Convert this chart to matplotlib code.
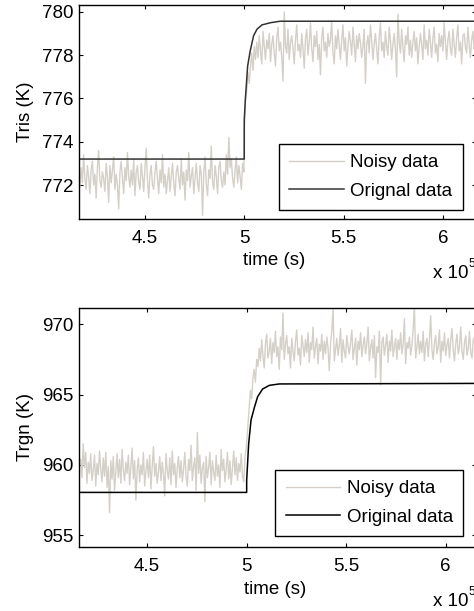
import matplotlib
matplotlib.use('agg')
from matplotlib import pyplot as plt
import numpy as np

plt.rcParams['font.family'] = ['Liberation Sans', 'DejaVu Sans']

noisy_color = '#d4d0c8'
fs = 13.5

# sampling window of the noisy records (s)
t_first = 4.166e5
t_step = 5.0e5
t_last = 6.17e5

xticks = [4.5e5, 5.0e5, 5.5e5, 6.0e5]
xtick_labels = ['4.5', '5', '5.5', '6']

# ---- top panel: Tris ----
tris_orig_t = [4.10e5, 5.0e5, 5.0e5, 5.005e5, 5.017e5, 5.03e5, 5.047e5, 5.064e5,
               5.089e5, 5.131e5, 5.18e5, 6.20e5]
tris_orig = [773.2, 773.2, 775.0, 775.9, 777.5, 778.2, 778.9, 779.2,
             779.4, 779.5, 779.57, 779.57]

tris_noisy_pre = [
    772.6, 771.9, 772.8, 772.1, 773.4, 772.3, 771.8, 772.9, 772.4, 771.6,
    772.7, 773.1, 772.0, 772.5, 771.4, 772.8, 773.6, 772.2, 771.9, 772.6,
    772.3, 771.7, 773.0, 772.4, 771.2, 772.9, 772.1, 772.7, 773.3, 771.8,
    772.5, 772.0, 770.9, 772.6, 773.1, 772.3, 771.6, 772.8, 772.2, 773.5,
    772.4, 771.9, 772.7, 772.0, 773.2, 771.5, 772.6, 772.9, 772.1, 771.8,
    773.0, 772.4, 771.7, 772.8, 773.7, 772.2, 771.4, 772.5, 772.9, 772.0,
    771.8, 772.6, 773.1, 772.3, 771.6, 772.7, 772.1, 773.4, 771.9, 772.5,
    771.6, 772.2, 772.8, 771.7, 772.4, 773.0, 772.1, 771.5, 772.6, 772.9,
    772.3, 771.8, 773.2, 772.0, 772.6, 771.3, 772.7, 772.2, 773.5, 771.9,
    772.4, 772.8, 771.6, 772.3, 773.0, 772.1, 771.7, 772.9, 772.5, 770.6,
    772.6, 773.3, 772.0, 771.5, 772.7, 772.3, 773.8, 772.1, 771.8, 772.9,
    772.4, 771.6, 772.8, 773.1, 772.2, 771.9, 772.6, 772.0, 773.4, 772.5,
    774.2, 772.8, 773.2, 772.3, 771.9, 772.7, 773.3, 772.1, 772.9, 772.4,
    771.8, 773.0, 772.6]

tris_noisy_post = [
    774.6, 775.9, 776.4, 777.2, 776.7, 777.5, 778.1, 777.3, 778.4, 777.8,
    778.6, 777.9, 778.9, 778.2, 777.6, 779.1, 778.4, 777.8, 778.7, 778.3,
    779.0, 777.7, 778.5, 778.9, 778.1, 777.5, 778.8, 779.3, 778.2, 778.6,
    777.9, 776.8, 780.0, 778.4, 778.1, 779.2, 777.8, 778.6, 778.9, 778.3,
    777.6, 778.7, 779.4, 778.2, 778.5, 777.9, 779.0, 778.3, 777.4, 778.8,
    779.2, 778.0, 778.6, 779.5, 778.3, 777.7, 778.9, 778.4, 779.1, 777.8,
    778.5, 777.1, 778.8, 779.3, 778.2, 778.6, 777.9, 779.0, 778.4, 778.7,
    779.6, 778.1, 777.6, 778.9, 778.3, 779.2, 778.5, 777.8, 778.7, 779.4,
    778.2, 778.8, 777.5, 778.4, 779.1, 778.6, 778.0, 779.3, 778.5, 777.7,
    778.9, 778.3, 779.0, 778.6, 777.9, 778.4, 779.2, 776.7, 778.5, 778.9,
    778.1, 779.4, 778.7, 777.8, 778.5, 779.0, 778.3, 777.6, 778.8, 779.5,
    778.2, 778.6, 777.9, 779.1, 778.4, 778.0, 779.3, 778.7, 777.8, 778.5,
    779.0, 778.3, 777.0, 779.9, 778.6, 778.1, 779.2, 778.4, 777.7, 778.9,
    778.5, 779.3, 778.0, 778.7, 777.9, 778.6, 779.1, 778.2, 778.8, 777.6,
    778.4, 779.0, 778.5, 777.8, 779.4, 778.3, 778.7, 778.0, 779.2, 778.6,
    777.9, 778.8, 779.3, 778.1, 778.5, 777.7, 779.0, 778.4, 778.9, 778.2,
    779.5, 778.6, 777.8, 778.7, 779.1, 778.3, 778.0, 779.2, 778.5, 777.9,
    778.8, 779.4, 778.2, 778.6, 777.6, 778.9, 779.0, 778.4, 778.1, 779.3,
    778.5, 777.9, 778.7, 779.1, 778.3, 778.6, 778.0]

tris_yticks = [772, 774, 776, 778, 780]

# ---- bottom panel: Trgn ----
trgn_orig_t = [4.10e5, 5.0e5, 5.0e5, 5.010e5, 5.022e5, 5.039e5, 5.055e5, 5.080e5,
               5.114e5, 5.164e5, 6.20e5]
trgn_orig = [958.05, 958.05, 958.9, 961.5, 963.2, 964.1, 964.85, 965.4,
             965.66, 965.76, 965.8]

trgn_noisy_pre = [
    960.4, 959.1, 961.5, 959.8, 960.9, 958.7, 960.2, 959.4, 960.8, 958.9,
    959.6, 960.7, 958.5, 960.1, 959.3, 961.0, 959.7, 958.8, 960.5, 959.2,
    960.9, 958.4, 959.9, 956.6, 960.3, 959.0, 960.6, 958.2, 959.5, 960.8,
    959.1, 960.4, 958.7, 961.1, 959.6, 958.9, 960.2, 959.4, 960.7, 958.6,
    959.8, 961.2, 959.0, 960.3, 957.5, 959.7, 960.5, 958.8, 960.0, 959.3,
    960.9, 958.5, 959.6, 960.4, 959.1, 960.7, 958.3, 959.9, 961.3, 959.2,
    960.1, 958.7, 959.5, 960.6, 958.9, 960.2, 959.4, 957.8, 960.8, 959.6,
    959.0, 960.5, 958.6, 961.0, 959.3, 960.1, 958.4, 959.8, 960.6, 959.1,
    960.3, 958.8, 959.7, 960.9, 959.2, 958.5, 960.4, 959.6, 961.4, 958.9,
    959.9, 960.5, 958.2, 962.3, 959.4, 960.7, 958.7, 959.8, 960.2, 957.4,
    960.6, 959.1, 959.8, 960.9, 958.6, 960.3, 959.5, 958.9, 960.7, 959.2,
    960.0, 958.4, 961.1, 959.6, 960.4, 958.8, 959.7, 960.9, 959.0, 960.3,
    958.6, 959.8, 961.0, 959.3, 960.5, 958.9, 960.1, 959.5, 960.8, 959.2,
    958.8, 960.6, 961.2]

trgn_noisy_post = [
    961.6, 962.9, 964.1, 965.3, 964.7, 966.2, 966.8, 965.9, 967.5, 967.0,
    968.3, 967.4, 968.9, 967.8, 966.9, 968.6, 969.3, 967.6, 968.1, 969.0,
    967.2, 968.7, 968.0, 969.5, 967.7, 968.4, 966.8, 969.1, 968.2, 970.8,
    967.5, 968.6, 969.2, 967.9, 968.4, 966.9, 969.0, 968.1, 967.4, 968.8,
    969.6, 967.8, 968.3, 967.1, 969.2, 968.5, 967.7, 968.9, 968.0, 969.4,
    967.3, 968.7, 968.2, 969.8, 967.6, 968.4, 969.0, 967.2, 968.6, 968.1,
    969.3, 967.5, 968.8, 967.9, 969.1, 968.3, 966.7, 968.6, 969.5, 971.1,
    967.4, 968.2, 969.0, 967.8, 968.5, 969.7, 967.3, 968.9, 968.1, 967.6,
    969.2, 968.4, 967.9, 968.7, 969.6, 967.5, 968.3, 969.0, 967.1, 968.8,
    968.2, 969.4, 967.7, 968.5, 969.1, 967.9, 968.6, 969.8, 967.4, 968.3,
    968.9, 967.6, 969.2, 966.2, 968.4, 968.0, 969.5, 965.7, 968.7, 969.1,
    967.8, 968.5, 969.3, 967.3, 968.8, 968.1, 969.6, 967.7, 968.4, 969.0,
    967.5, 968.9, 968.2, 969.4, 967.9, 968.6, 970.4, 967.2, 968.7, 968.3,
    969.1, 967.8, 968.5, 969.7, 971.2, 967.6, 968.4, 969.3, 967.9, 968.8,
    968.0, 969.5, 967.4, 968.6, 969.0, 967.7, 968.9, 970.6, 968.2, 967.5,
    968.7, 969.2, 967.9, 968.4, 969.6, 967.3, 968.8, 968.1, 969.4, 967.8,
    968.5, 969.0, 967.6, 968.9, 969.7, 968.2, 967.4, 968.6, 969.3, 967.9,
    968.4, 969.8, 968.1, 967.5, 968.7, 969.2, 967.8, 968.3, 969.5, 968.0,
    967.6, 968.9, 969.1, 968.2, 967.7, 968.6, 969.4]

trgn_yticks = [955, 960, 965, 970]


def noisy_series(pre, post):
    t = np.concatenate([np.linspace(t_first, t_step - 200, len(pre)),
                        np.linspace(t_step, t_last, len(post))])
    return t, np.concatenate([pre, post])


def draw_panel(ax, t_noisy, y_noisy, t_orig, y_orig, orig_label, orig_color,
               xlim, ylim, yticks, ylabel, legend_anchor, xlabel_xy):
    ax.plot(t_noisy, y_noisy, color=noisy_color, lw=1.0, label='Noisy data')
    ax.plot(t_orig, y_orig, color=orig_color, lw=1.1, label=orig_label)
    ax.set_xlim(*xlim)
    ax.set_ylim(*ylim)
    ax.set_xticks(xticks)
    ax.set_xticklabels(xtick_labels)
    ax.set_yticks(yticks)
    ax.tick_params(direction='in', top=True, right=True, length=3, width=0.8,
                   labelsize=fs, colors='black')
    ax.tick_params(axis='x', pad=8)
    ax.tick_params(axis='y', pad=4)
    for s in ax.spines.values():
        s.set_linewidth(1.0)
        s.set_color('black')
    ax.set_xlabel('time (s)', fontsize=fs)
    ax.xaxis.set_label_coords(*xlabel_xy)
    ax.set_ylabel(ylabel, fontsize=fs)
    ax.yaxis.set_label_coords(-0.114, 0.5)
    leg = ax.legend(loc='upper right', bbox_to_anchor=legend_anchor,
                    borderaxespad=0, fontsize=fs, fancybox=False,
                    framealpha=1, edgecolor='black', handlelength=2.9,
                    handletextpad=0.35, borderpad=0.55, labelspacing=0.6)
    leg.get_frame().set_linewidth(1.0)


fig = plt.figure(figsize=(4.74, 6.11), dpi=100)
ax1 = fig.add_axes([0.1667, 0.6416, 0.8376, 0.3502])
ax2 = fig.add_axes([0.1673, 0.1043, 0.8376, 0.3921])

t1, y1 = noisy_series(tris_noisy_pre, tris_noisy_post)
draw_panel(ax1, t1, y1, tris_orig_t, tris_orig, 'Orignal data', '#333333',
           (4.168e5, 6.167e5), (770.43, 780.32), tris_yticks, 'Tris (K)',
           (0.9665, 0.3505), (0.491, -0.155))

t2, y2 = noisy_series(trgn_noisy_pre, trgn_noisy_post)
draw_panel(ax2, t2, y2, trgn_orig_t, trgn_orig, 'Original data', 'black',
           (4.159e5, 6.154e5), (954.15, 971.18), trgn_yticks, 'Trgn (K)',
           (0.967, 0.3226), (0.494, -0.140))

# exponent labels, MATLAB style, under the right end of each x axis
for y_base in (1 - 278 / 611, 1 - 606 / 611):
    fig.text(433 / 474, y_base, 'x 10', fontsize=fs, ha='left', va='baseline')
    fig.text(468 / 474, y_base + 11 / 611, '5', fontsize=8.5, ha='left', va='baseline')

fig.savefig('out.png', dpi=100)
